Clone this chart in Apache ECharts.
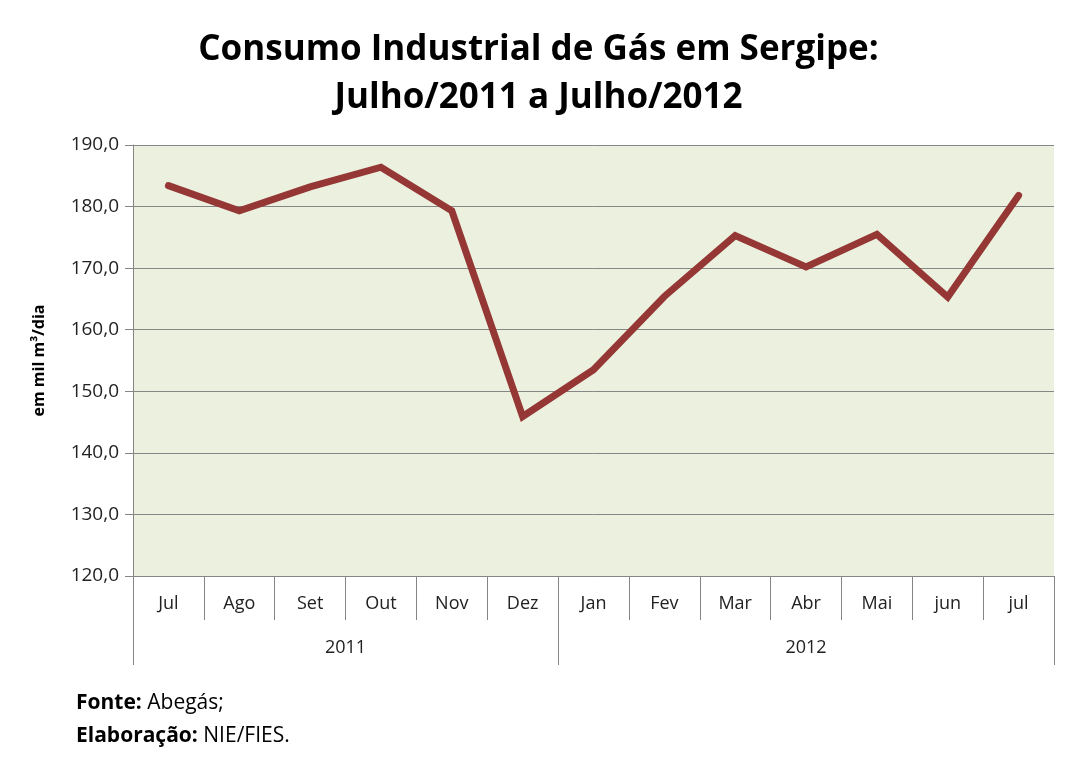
<!DOCTYPE html>
<html>
<head>
<meta charset="utf-8">
<script src="https://cdn.jsdelivr.net/npm/echarts@6/dist/echarts.min.js"></script>
<style>
  html, body { margin: 0; padding: 0; background: #fff; }
  #chart { width: 1077px; height: 758px; }
</style>
</head>
<body>
<div id="chart"></div>
<script>
var months = ['Jul', 'Ago', 'Set', 'Out', 'Nov', 'Dez', 'Jan', 'Fev', 'Mar', 'Abr', 'Mai', 'jun', 'jul'];
var monthYear = [2011, 2011, 2011, 2011, 2011, 2011, 2012, 2012, 2012, 2012, 2012, 2012, 2012];
var consumo = [183.4, 179.3, 183.2, 186.4, 179.3, 145.9, 153.5, 165.4, 175.3, 170.2, 175.5, 165.3, 181.8];
var yTicks = [120, 130, 140, 150, 160, 170, 180, 190];

// limites e centros de cada ano no eixo de categorias
var years = [];
var yearStart = {};
monthYear.forEach(function (y, i) {
    if (years.indexOf(y) < 0) { years.push(y); yearStart[y] = i; }
});
var bounds = years.map(function (y) { return yearStart[y]; }).concat([months.length]);
var centers = years.map(function (y, i) { return (bounds[i] + bounds[i + 1]) / 2; });

var myChart = echarts.init(document.getElementById('chart'));
var font = 'Open Sans';
var option = {
    backgroundColor: '#fff',
    title: [{
        text: 'Consumo Industrial de Gás em Sergipe:\nJulho/2011 a Julho/2012',
        left: 'center',
        top: 21,
        textStyle: {
            fontFamily: font,
            fontWeight: 'bold',
            fontSize: 35,
            lineHeight: 48,
            color: '#000'
        }
    }, {
        text: '{b|Fonte:}{n| Abegás;}\n{b|Elaboração:}{n| NIE/FIES.}',
        left: 71,
        top: 682,
        textStyle: {
            fontFamily: font,
            fontWeight: 'normal',
            fontSize: 21,
            lineHeight: 33,
            color: '#000',
            rich: {
                b: { fontFamily: font, fontSize: 21, fontWeight: 'bold', color: '#000', lineHeight: 33 },
                n: { fontFamily: font, fontSize: 21, fontWeight: 'normal', color: '#000', lineHeight: 33 }
            }
        }
    }],
    grid: {
        left: 133,
        right: 23,
        top: 145,
        bottom: 182,
        show: true,
        backgroundColor: '#EBF1DE',
        borderWidth: 0
    },
    xAxis: [{
        type: 'category',
        data: months,
        boundaryGap: true,
        axisLine: { show: true, lineStyle: { color: '#868686', width: 1 } },
        axisTick: { show: true, interval: 0, length: 44, lineStyle: { color: '#868686' } },
        axisLabel: { interval: 0, color: '#222', fontFamily: font, fontSize: 18, margin: 19 },
        splitLine: { show: false }
    }, {
        type: 'value',
        min: 0,
        max: months.length,
        position: 'bottom',
        axisLine: { show: false },
        axisTick: { show: true, customValues: bounds, length: 89, lineStyle: { color: '#868686' } },
        axisLabel: {
            customValues: centers,
            color: '#222',
            fontFamily: font,
            fontSize: 18,
            margin: 63,
            formatter: function (v) { return String(years[centers.indexOf(v)]); }
        },
        splitLine: { show: false }
    }],
    yAxis: {
        type: 'value',
        min: yTicks[0],
        max: yTicks[yTicks.length - 1],
        interval: 10,
        name: 'em mil m³/dia',
        nameLocation: 'middle',
        nameRotate: 90,
        nameGap: 86,
        nameTextStyle: { fontFamily: font, fontWeight: 'bold', fontSize: 16, color: '#000' },
        axisLine: { show: true, lineStyle: { color: '#868686' } },
        axisTick: { show: true, length: 8, lineStyle: { color: '#868686' } },
        axisLabel: {
            color: '#222',
            fontFamily: font,
            fontSize: 19,
            margin: 14,
            formatter: function (v) { return v.toFixed(1).replace('.', ','); }
        },
        splitLine: { show: true, lineStyle: { color: '#868686', width: 1 } }
    },
    series: [{
        type: 'line',
        xAxisIndex: 0,
        data: consumo,
        symbol: 'none',
        lineStyle: { color: '#953735', width: 7, cap: 'round', join: 'miter' },
        itemStyle: { color: '#953735' },
        animation: false
    }]
};
myChart.setOption(option);
</script>
</body>
</html>
